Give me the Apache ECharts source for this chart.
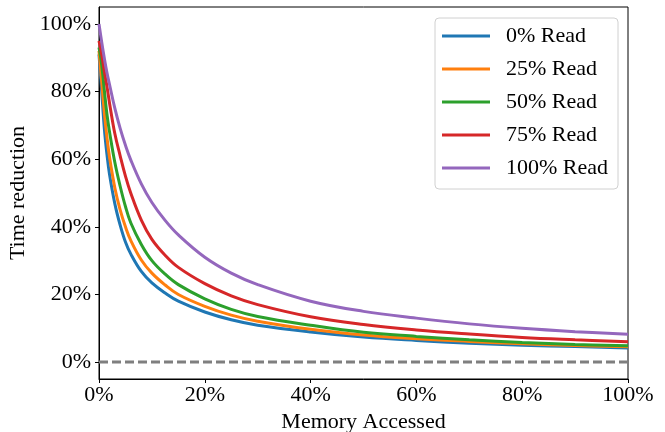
<!DOCTYPE html>
<html>
<head>
<meta charset="utf-8">
<script src="https://cdn.jsdelivr.net/npm/echarts@6/dist/echarts.min.js"></script>
<style>html,body{margin:0;padding:0;background:#fff}#c{width:665px;height:432px}</style>
</head>
<body>
<div id="c"></div>
<script>
// Memory accessed (%)
const memAccessed = [0, 0.5, 1, 1.5, 2, 3, 4, 5, 6, 8, 10, 12.5, 15, 20, 25, 30, 40, 50, 60, 70, 80, 90, 100];
// Time reduction (%) per read ratio
const read0   = [91, 80.3, 69.2, 61.4, 55.4, 46.8, 40.5, 35.5, 32, 26.8, 23.4, 20.4, 18.0, 14.8, 12.5, 10.9, 8.9, 7.4, 6.4, 5.6, 5.0, 4.6, 4.2];
const read25  = [92, 83, 74, 66.5, 60.5, 51.5, 45, 40, 36, 30.2, 26.3, 22.8, 20.0, 16.5, 13.9, 12.1, 9.7, 8.0, 6.9, 6.1, 5.4, 4.9, 4.5];
const read50  = [93, 88, 80.5, 73.3, 68, 59, 52, 46, 41.2, 34.8, 30.0, 26.0, 22.9, 18.7, 15.6, 13.5, 10.9, 8.8, 7.6, 6.6, 5.8, 5.2, 4.8];
const read75  = [95, 91, 86, 81.5, 76.5, 67.5, 61, 55, 50, 42, 36.3, 31.6, 28.0, 23.2, 19.6, 17.0, 13.4, 11.1, 9.5, 8.3, 7.3, 6.6, 6.0];
const read100 = [100, 94.7, 89.9, 85.6, 82, 75, 69.1, 64.1, 59.8, 52.7, 47.2, 41.9, 37.6, 31, 26.3, 22.9, 18.0, 15.0, 13.0, 11.3, 10.0, 9.0, 8.2];
const seriesNames = ['0% Read', '25% Read', '50% Read', '75% Read', '100% Read'];
const seriesValues = [read0, read25, read50, read75, read100];
const xTicks = [0, 20, 40, 60, 80, 100];
const yTicks = [0, 20, 40, 60, 80, 100];
const zeroLine = [0, 0];
const xRange = [0, 100];

const colors = ['#1f77b4', '#ff7f0e', '#2ca02c', '#d62728', '#9467bd'];
const font = 'Liberation Serif';

const chart = echarts.init(document.getElementById('c'), null, {renderer: 'canvas'});

const series = seriesNames.map((name, i) => ({
  name: name,
  type: 'line',
  data: memAccessed.map((x, j) => [x, seriesValues[i][j]]),
  smooth: 0.4,
  showSymbol: false,
  symbol: 'none',
  lineStyle: {color: colors[i], width: 3},
  itemStyle: {color: colors[i]},
  z: 3 + i,
  animation: false
}));
series.push({
  name: 'zero',
  type: 'line',
  data: xRange.map((x, j) => [x, zeroLine[j]]),
  showSymbol: false,
  symbol: 'none',
  lineStyle: {color: '#7f7f7f', width: 3, type: [9, 4]},
  z: 2,
  animation: false
});

chart.setOption({
  animation: false,
  grid: {left: 99, right: 37, top: 7, bottom: 53, show: true, borderColor: '#000', borderWidth: 1, backgroundColor: 'transparent', outerBoundsMode: 'none', containLabel: false},
  xAxis: {
    type: 'value', min: 0, max: 100,
    name: 'Memory Accessed', nameLocation: 'middle', nameGap: 30,
    nameTextStyle: {fontFamily: font, fontSize: 22, color: '#000'},
    axisLine: {show: true, onZero: false, lineStyle: {color: '#000', width: 1}},
    axisTick: {show: true, inside: false, length: 4, lineStyle: {color: '#000'}, customValues: xTicks},
    axisLabel: {customValues: xTicks, formatter: v => v + '%', fontFamily: font, fontSize: 22, color: '#000', margin: 5},
    splitLine: {show: false}
  },
  yAxis: {
    type: 'value', min: -5, max: 105,
    name: 'Time reduction', nameLocation: 'middle', nameGap: 51, nameRotate: 90,
    nameTextStyle: {fontFamily: font, fontSize: 22, color: '#000'},
    axisLine: {show: true, onZero: false, lineStyle: {color: '#000', width: 1}},
    axisTick: {show: true, inside: false, length: 4, lineStyle: {color: '#000'}, customValues: yTicks},
    axisLabel: {customValues: yTicks, formatter: v => v + '%', fontFamily: font, fontSize: 22, color: '#000', margin: 8},
    splitLine: {show: false}
  },
  legend: {
    data: seriesNames,
    orient: 'vertical',
    left: 435, top: 18,
    padding: [7, 10, 10, 7],
    icon: 'rect',
    itemWidth: 48, itemHeight: 3, itemGap: 11,
    backgroundColor: '#fff',
    borderColor: '#d0d0d0', borderWidth: 1, borderRadius: 4,
    textStyle: {fontFamily: font, fontSize: 22, color: '#000', padding: [0, 0, 0, 11], lineHeight: 22}
  },
  series: series
});
</script>
</body>
</html>
